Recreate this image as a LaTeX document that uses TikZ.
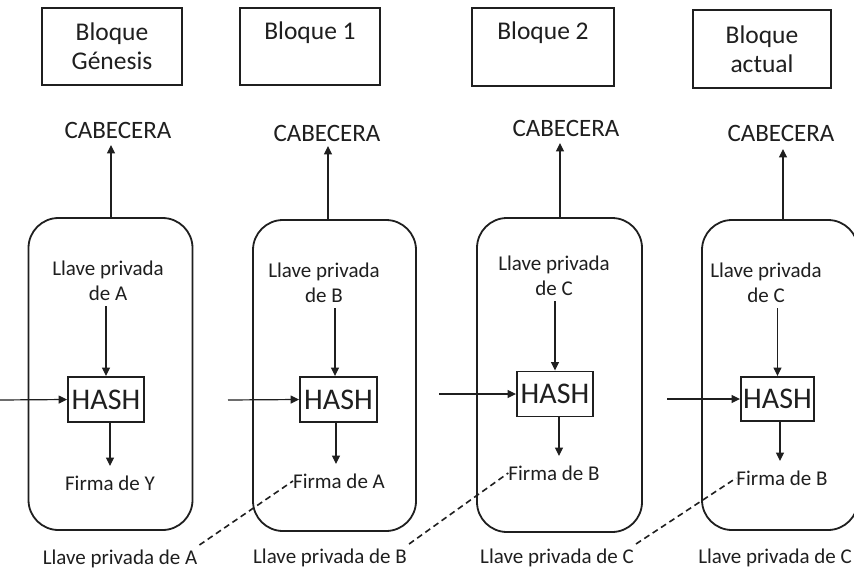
\documentclass[tikz,border=0pt]{standalone}
\usepackage{fontspec}
\setmainfont{Carlito}
\usetikzlibrary{arrows.meta}
\definecolor{ink}{HTML}{1F1F1F}
\tikzset{
  x=1pt, y=-1pt,
  every node/.style={text=ink, inner sep=0pt},
  titlebox/.style={draw=ink, line width=1.9pt, minimum width=140pt, minimum height=77pt, font=\fontsize{25.5}{29}\selectfont, align=center},
  cabtext/.style={font=\fontsize{25}{28}\selectfont},
  smalltext/.style={font=\fontsize{21}{25.5}\selectfont, align=center},
  blockbox/.style={draw=ink, line width=1.8pt, rounded corners=30pt},
  hashbox/.style={draw=ink, line width=1.9pt, minimum width=76pt, minimum height=45pt, font=\fontsize{30}{34}\selectfont},
  arr/.style={draw=ink, line width=1.2pt, -{Triangle[length=8.5pt,width=8pt]}},
  dashline/.style={draw=ink, line width=1.6pt, dash pattern=on 6pt off 4pt},
}
\begin{document}
\begin{tikzpicture}
\useasboundingbox (0,0) rectangle (854,575);
\clip (0,0) rectangle (854,575);
\fill[white] (0,0) rectangle (854,575);

% title boxes
\node[titlebox] (t1) at (112,46.5) {Bloque\\Génesis};
\node[titlebox, minimum width=140pt, minimum height=77pt] (t2) at (310,46.5) {};
\node[font=\fontsize{25.5}{29}\selectfont] (t2l) at (310,33) {Bloque 1};
\node[titlebox, minimum width=142pt, minimum height=78pt] (t3) at (543,47) {};
\node[font=\fontsize{25.5}{29}\selectfont] (t3l) at (543,33) {Bloque 2};
\node[titlebox, minimum width=138pt, minimum height=78pt] (t4) at (762,49) {Bloque\\actual};

% CABECERA
\node[cabtext] (c1) at (118,130) {CABECERA};
\node[cabtext] (c2) at (327,133) {CABECERA};
\node[cabtext] (c3) at (566,128) {CABECERA};
\node[cabtext] (c4) at (781,133) {CABECERA};

% block containers
\node[blockbox, minimum width=164pt, minimum height=312pt] (b1) at (110.5,374) {};
\node[blockbox, minimum width=163pt, minimum height=311pt] (b2) at (334.5,375.5) {};
\node[blockbox, minimum width=165pt, minimum height=314pt] (b3) at (559.5,375) {};
\node[blockbox, minimum width=156pt, minimum height=310pt] (b4) at (780,375) {};

% private keys inside
\node[smalltext] (k1) at (108,281) {Llave privada\\de A};
\node[smalltext] (k2) at (324,283) {Llave privada\\de B};
\node[smalltext] (k3) at (554,276) {Llave privada\\de C};
\node[smalltext] (k4) at (766,283) {Llave privada\\de C};

% hash boxes
\node[hashbox] (h1) at (106,399.5) {HASH};
\node[hashbox, minimum width=77pt] (h2) at (338.5,399.5) {HASH};
\node[hashbox] (h3) at (555,394) {HASH};
\node[hashbox, minimum width=73pt, minimum height=44pt] (h4) at (777.5,399) {HASH};

% signatures
\node[smalltext] (f1) at (110,483) {Firma de Y};
\node[smalltext] (f2) at (339,481) {Firma de A};
\node[smalltext] (f3) at (554,473) {Firma de B};
\node[smalltext] (f4) at (782,478) {Firma de B};

% bottom labels
\node[smalltext] (p1) at (120,559) {Llave privada de A};
\node[smalltext] (p2) at (330,558) {Llave privada de B};
\node[smalltext] (p3) at (557,558) {Llave privada de C};
\node[smalltext] (p4) at (775,558) {Llave privada de C};

% incoming arrow starts
\coordinate (i1) at (0,400);
\coordinate (i2) at (228,400);
\coordinate (i3) at (439,394);
\coordinate (i4) at (667,399);

% up arrows
\draw[arr] (b1.north -| 111,0) -- (111,145);
\draw[arr] (b2.north -| 328,0) -- (328,146);
\draw[arr] (b3.north -| 560,0) -- (560,143);
\draw[arr] (b4.north -| 783,0) -- (783,149);

% key -> hash
\draw[arr] (k1.south -| h1) ++(0,5) -- (h1.north);
\draw[arr] (k2.south -| 335,0) ++(0,5) -- (h2.north -| 335,0);
\draw[arr] (k3.south -| h3) ++(0,5) -- (h3.north);
\draw[arr] (k4.south -| h4) ++(0,5) -- (h4.north);

% hash -> firma
\draw[arr] (h1.south -| 110,0) -- (110,466);
\draw[arr] (h2.south -| 336,0) -- (336,464);
\draw[arr] (h3.south -| 559,0) -- (559,456);
\draw[arr] (h4.south -| 780,0) -- (780,461);

% incoming arrows
\draw[arr] (i1) -- (h1.west);
\draw[arr] (i2) -- (h2.west);
\draw[arr] (i3) -- (h3.west);
\draw[arr] (i4) -- (h4.west);

% dashed links
\draw[dashline] (p1.east) ++(2,-14) -- (f2.west);
\draw[dashline] (p2.east) ++(2,-14) -- (f3.west);
\draw[dashline] (p3.east) ++(2,-14) -- (f4.west);
\end{tikzpicture}
\end{document}
